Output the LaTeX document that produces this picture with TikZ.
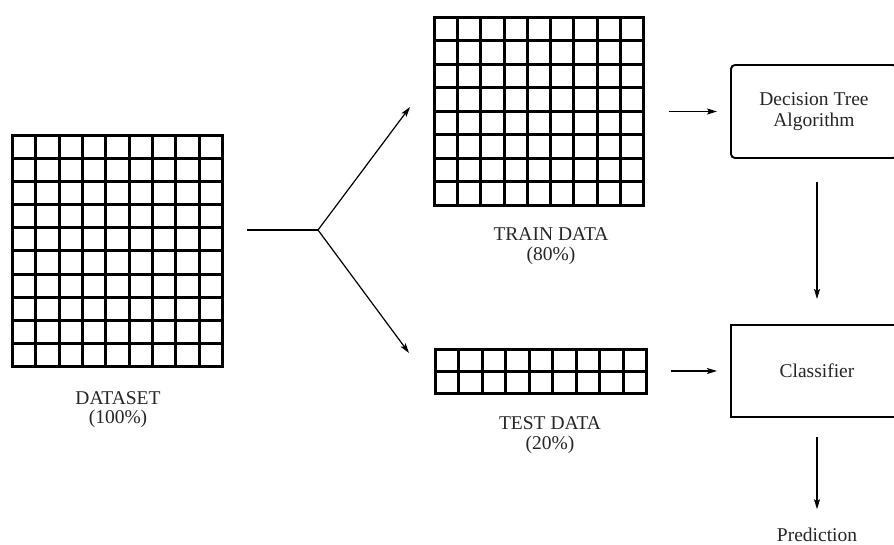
\documentclass[tikz,border=0pt]{standalone}
\usepackage{fontspec}
\setmainfont{Liberation Serif}
\usetikzlibrary{arrows.meta,calc}
\newcommand{\cellgrid}[3]{%
  \pgfmathtruncatemacro{\lastc}{#2-1}%
  \pgfmathtruncatemacro{\lastr}{#3-1}%
  \foreach \i in {1,...,\lastc}
    \draw[gridline] ($(#1.north west)!\i/#2!(#1.north east)$) -- ($(#1.south west)!\i/#2!(#1.south east)$);
  \foreach \j in {1,...,\lastr}
    \draw[gridline] ($(#1.north west)!\j/#3!(#1.south west)$) -- ($(#1.north east)!\j/#3!(#1.south east)$);
}
\tikzset{
  gridbox/.style={draw, line width=3pt, inner sep=0pt, outer sep=0pt, rectangle},
  gridline/.style={line width=3pt},
  lbl/.style={font=\fontsize{19.5}{19.5}\selectfont, align=center, inner sep=0pt, text=black!85},
  procbox/.style={draw, line width=1.9pt, inner sep=0pt, outer sep=0pt, font=\fontsize{19.5}{21.5}\selectfont, align=center, text=black!85},
  arr/.style={line width=1.2pt, -{Stealth[length=10pt,width=6pt,inset=2pt]}},
}
\begin{document}
\begin{tikzpicture}[x=1pt,y=-1pt]
\useasboundingbox (0,0) rectangle (894,545);
\clip (0,0) rectangle (894,545);
\fill[white] (0,0) rectangle (894,545);

% grids
\node[gridbox, minimum width=210pt, minimum height=231pt] (ds) at (117.5,251) {};
\cellgrid{ds}{9}{10}
\node[gridbox, minimum width=209pt, minimum height=188pt] (train) at (539,111.5) {};
\cellgrid{train}{9}{8}
\node[gridbox, minimum width=211pt, minimum height=44pt] (test) at (541,371.5) {};
\cellgrid{test}{9}{2}

% labels
\node[lbl] (dslab) at (118,409.5) {DATASET\\(100\%)};
\node[lbl] (trainlab) at (551,246) {TRAIN DATA\\(80\%)};
\node[lbl] (testlab) at (550,435) {TEST DATA\\(20\%)};

% process boxes
\node[procbox, rounded corners=4pt, minimum width=166pt, minimum height=93pt] (dt) at (814,111.5) {Decision Tree\\Algorithm};
\node[procbox, minimum width=172pt, minimum height=92pt] (cls) at (817,371) {Classifier};
\node[lbl, anchor=base] (pred) at (817,541) {Prediction};

% split connector
\coordinate (s0) at (247,230);
\coordinate (split) at (318,230);
\coordinate (up) at (410,107);
\coordinate (down) at (409,353);
\draw[line width=1.8pt] (s0) -- (split);
\draw[arr] (split) -- (up);
\draw[arr] (split) -- (down);

% flow arrows
\draw[arr, shorten <=25pt, shorten >=14pt] (train.east |- dt.west) -- (dt.west);
\draw[arr, shorten <=24pt, shorten >=14pt] (test.east |- cls.west) -- (cls.west);
\draw[arr, shorten <=24pt, shorten >=26pt] (cls.north |- dt.south) -- (cls.north);
\draw[arr, shorten <=20pt, shorten >=18pt] (cls.south) -- (pred.north);
\end{tikzpicture}
\end{document}
